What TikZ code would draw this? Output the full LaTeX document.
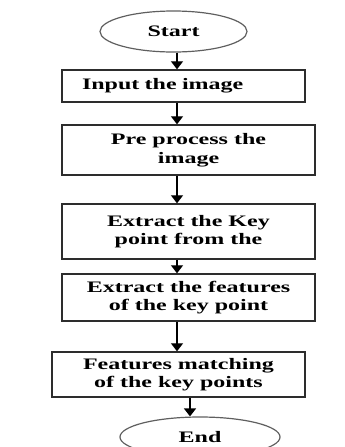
\documentclass[tikz,border=0pt]{standalone}
\usepackage{fontspec}
\setmainfont{Liberation Serif}[FakeStretch=1.5]
\usetikzlibrary{arrows.meta,shapes.geometric}
\definecolor{boxgray}{RGB}{45,45,45}
\definecolor{ovalgray}{RGB}{95,95,95}

\begin{document}
\begin{tikzpicture}[x=1pt,y=-1pt,
    font=\fontsize{16}{18.5}\selectfont\bfseries,
    stepbox/.style={draw=boxgray, line width=1.4pt, minimum width=253pt, align=center, inner sep=0pt},
    oval/.style={ellipse, draw=ovalgray, line width=1.2pt, inner sep=0pt},
    flow/.style={-{Triangle[width=12pt,length=8pt]}, line width=1.3pt}]
    \useasboundingbox (0,0) rectangle (345,447);
    % terminals and steps
    \node[oval, minimum width=147pt, minimum height=41pt] (start) at (173.5,31.5) {Start};
    \node[stepbox, minimum width=243pt, minimum height=32pt, text width=203pt, align=left, inner xsep=20pt] (input) at (183.5,86) {Input the image};
    \node[stepbox, minimum height=50pt] (prep) at (188.5,150) {Pre process the\\image};
    \node[stepbox, minimum height=55pt] (keypt) at (188.5,231.5) {Extract the Key\\point from the};
    \node[stepbox, minimum height=47pt] (feat) at (188.5,297.5) {Extract the features\\of the key point};
    \node[stepbox, minimum height=45pt] (match) at (178.5,374.5) {Features matching\\of the key points};
    \node[oval, minimum width=160pt, minimum height=40pt] (end) at (200,437) {End};
    % arrows
    \coordinate (axis) at (177,0);
    \coordinate (axisend) at (190,0);
    \foreach \from/\to in {start/input, input/prep, prep/keypt, keypt/feat, feat/match}
        \draw[flow] (\from.south -| axis) -- (\to.north -| axis);
    \draw[flow] (match.south -| axisend) -- (end.north -| axisend);
\end{tikzpicture}
\end{document}
